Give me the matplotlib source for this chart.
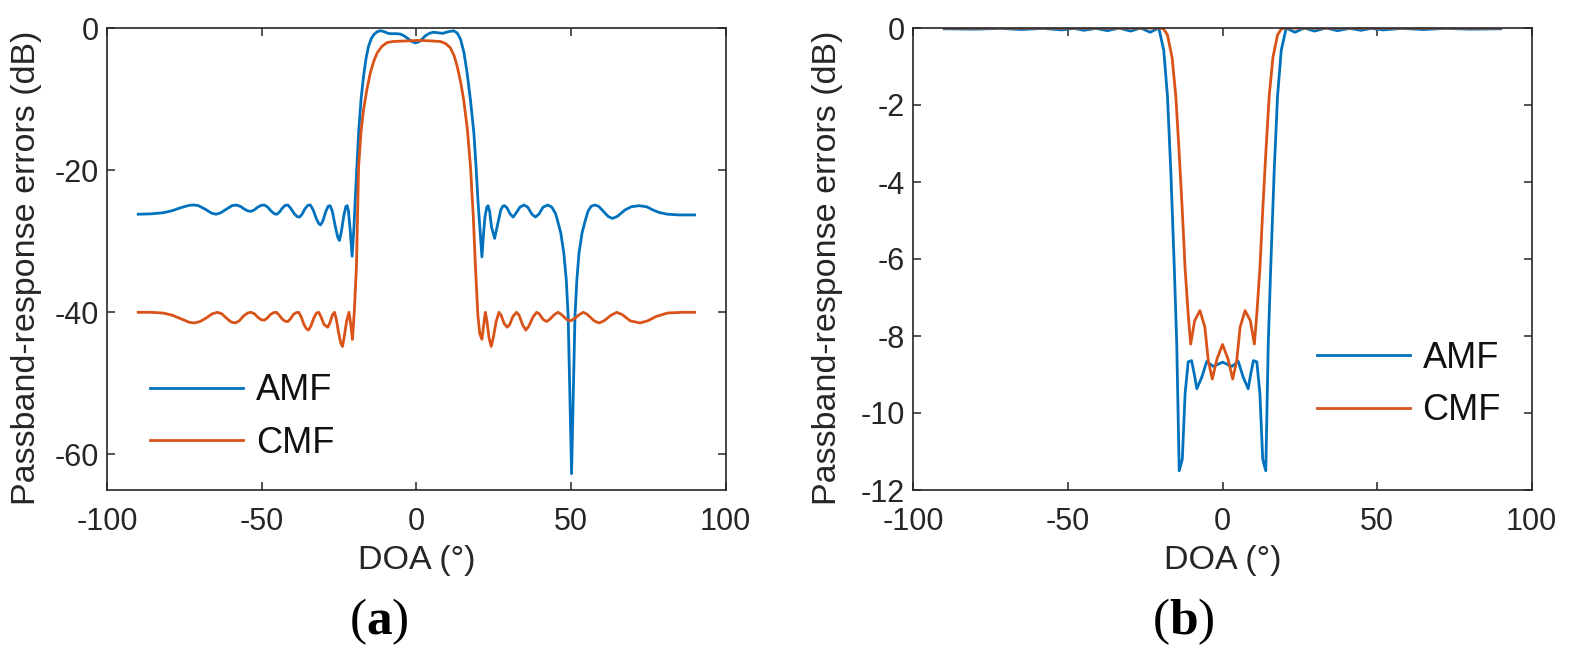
import matplotlib
matplotlib.use("Agg")
import matplotlib.pyplot as plt

plt.rcParams['font.family'] = ['Liberation Sans', 'DejaVu Sans']
plt.rcParams['axes.unicode_minus'] = False
plt.rcParams['mathtext.fontset'] = 'custom'
plt.rcParams['mathtext.rm'] = 'Liberation Serif'
plt.rcParams['mathtext.bf'] = 'Liberation Serif:bold'

# ---------------- data: panel (a) ----------------
a_amf_x = [-90, -86, -82, -79, -76, -73.5, -72, -70.5, -68.3, -66.3, -64.8, -63.3, -61.5, -59.7, -58.3,
           -56.9, -55.6, -54.4, -53.5, -52.5, -51.3, -50.2, -49.2, -48.1, -46.9, -45.9, -45.1, -44.3,
           -43.3, -42.4, -41.6, -40.6, -39.4, -38.5, -37.8, -37.0, -36.0, -35.1, -34.3, -33.4, -32.3,
           -31.6, -31.0, -30.3, -29.3, -28.5, -27.9, -27.2, -26.2, -25.4, -24.9, -24.3, -23.4, -22.8,
           -22.4, -22.0, -21.4, -20.8, -20.2, -19.8, -19.2, -18.7, -17.9, -17.1, -16.3, -15.5, -14.6,
           -13.8, -12.8, -11.7, -10.5, -9.2, -8.4, -6.5, -5.2, -4.0, -3.0, -1.5, -0.3, 1.0, 2.0, 2.9,
           4.2, 5.5, 7.0, 8.5, 10.5, 12.1, 13.2, 14.3, 15.4, 16.4, 17.5, 18.6, 19.3, 19.9, 20.6, 21.2,
           21.8, 22.2, 22.8, 23.2, 23.7, 24.3, 25.3, 26.2, 27.3, 28.0, 28.5, 29.3, 30.4, 31.3, 32.3,
           33.5, 34.8, 36.0, 37.4, 38.5, 39.6, 41.0, 42.5, 43.8, 45.0, 45.6, 46.7, 47.7, 48.5, 49.1,
           50.2, 51.3, 51.9, 52.6, 53.6, 54.7, 55.5, 56.5, 57.7, 59.0, 60.5, 62.0, 63.4, 65.0, 67.5,
           69.5, 72.0, 74.5, 76.5, 78.5, 81.2, 85.0, 90.0]
a_amf_y = [-26.2, -26.15, -26.0, -25.7, -25.25, -24.95, -24.9, -25.0, -25.5, -26.05, -26.2, -26.0, -25.5, -25.0, -24.9,
           -25.1, -25.5, -25.75, -25.8, -25.6, -25.2, -24.95, -24.9, -25.2, -25.8, -26.15, -26.2, -25.9,
           -25.3, -24.95, -24.9, -25.4, -26.2, -26.55, -26.6, -26.2, -25.4, -24.95, -24.9, -25.6, -26.9,
           -27.5, -27.7, -27.2, -25.8, -25.05, -25.0, -25.8, -28.0, -29.5, -29.9, -28.7, -26.2, -25.1,
           -25.0, -25.7, -28.5, -32.1, -28.0, -24.2, -19.0, -14.8, -10.0, -6.8, -4.3, -2.6, -1.5,
           -0.94, -0.55, -0.38, -0.5, -0.75, -0.8, -0.8, -0.85, -1.1, -1.4, -1.9, -2.1, -1.9, -1.5, -1.1,
           -0.75, -0.6, -0.68, -0.75, -0.5, -0.4, -0.7, -1.6, -3.5, -6.3, -10.2, -14.8, -19.5, -24.2, -28.5, -32.2,
           -28.5, -26.5, -25.2, -25.0, -25.8, -28.0, -29.6, -27.8, -25.6, -25.05, -25.0, -25.3, -26.2, -26.6, -26.0,
           -25.2, -24.9, -25.2, -26.2, -26.6, -26.2, -25.2, -24.9, -25.2, -26.1, -27.0, -28.8, -31.7, -35.5, -40.6,
           -62.7, -40.6, -35.5, -31.7, -28.8, -27.0, -25.8, -25.1, -24.9, -25.1, -25.8, -26.5, -26.8, -26.5, -25.6,
           -25.15, -25.0, -25.15, -25.6, -25.95, -26.2, -26.3, -26.3]

a_cmf_x = [-90, -86, -82, -79, -76, -73.5, -71.8, -70, -68, -66, -64.4, -63, -61.5, -60, -58.6,
           -57.3, -55.9, -54.6, -53.5, -52.4, -51.3, -50.2, -49.2, -48.2, -47.2, -46.2, -45.3, -44.4,
           -43.4, -42.5, -41.6, -40.7, -39.8, -38.9, -38.1, -37.3, -36.4, -35.6, -34.9, -34.1, -33.2,
           -32.3, -31.6, -30.8, -29.9, -28.7, -28.0, -27.2, -26.5, -25.9, -25.2, -24.5, -23.9, -23.3,
           -22.6, -21.8, -21.2, -20.7, -20.1, -19.4, -18.7, -17.9, -17.1, -16.0, -14.9, -13.8, -12.7,
           -11.2, -9.5, -7.5, -5.2, -2.0, 0, 1.3, 4.0, 7.8, 9.5, 11.0, 12.2, 13.2, 14.3, 15.3, 16.5,
           17.5, 18.4, 19.1, 19.9, 20.5, 21.2, 21.7, 22.3, 22.8, 23.5, 24.2, 24.9, 25.8, 26.7, 27.4,
           28.4, 29.4, 30.2, 31.2, 32.4, 33.2, 34.4, 35.4, 36.3, 37.8, 38.9, 39.7, 41.0, 42.1, 43.1,
           44.7, 45.8, 46.9, 48.6, 49.9, 51.1, 52.8, 54.0, 55.3, 57.5, 59.1, 60.7, 63.0, 64.8, 66.5,
           69.2, 72.3, 74.8, 77.5, 81.2, 86.0, 90.0]
a_cmf_y = [-40.0, -40.0, -40.1, -40.4, -40.95, -41.4, -41.5, -41.3, -40.8, -40.2, -40.0, -40.2, -40.8, -41.35, -41.5,
           -41.2, -40.5, -40.1, -40.0, -40.2, -40.7, -41.05, -41.1, -40.8, -40.3, -40.05, -40.0, -40.4,
           -40.95, -41.25, -41.3, -40.9, -40.3, -40.05, -40.0, -40.6, -41.7, -42.3, -42.5, -41.9, -40.8,
           -40.1, -40.0, -40.7, -41.7, -42.1, -41.5, -40.4, -40.0, -41.0, -42.8, -44.3, -44.8, -43.3,
           -41.3, -40.0, -41.8, -43.8, -40.0, -33.6, -19.5, -14.5, -11.5, -8.6, -6.3, -4.7, -3.5,
           -2.6, -2.05, -1.9, -1.85, -1.8, -1.75, -1.75, -1.8, -1.9, -2.2, -2.8, -3.9, -5.4, -7.6, -10.1, -14.3,
           -19.5, -26.5, -33.6, -40.5, -43.0, -43.8, -42.0, -40.0, -41.2, -43.6, -44.8, -43.5, -41.3, -40.0, -40.4,
           -41.6, -42.1, -41.7, -40.6, -40.0, -40.4, -41.8, -42.5, -42.0, -40.6, -40.0, -40.2, -41.0, -41.3, -41.0,
           -40.3, -40.0, -40.3, -41.0, -41.2, -40.9, -40.3, -40.0, -40.3, -41.2, -41.5, -41.2, -40.4, -40.0, -40.3,
           -41.2, -41.5, -41.2, -40.6, -40.1, -40.0, -40.0]

# ---------------- data: panel (b) ----------------
b_amf_x = [-90, -80, -72, -65, -58, -52, -48, -44.8, -41, -37.2, -33.5, -29.7, -26.5, -23.4, -20.6,
           -19.0, -17.8, -16.7, -15.6, -14.8, -14.0, -13.0, -12.1, -11.1, -10.0, -9.1, -8.3, -6.7, -5.1,
           -3.0, 0, 3.0, 5.1, 6.7, 8.3, 9.1, 10.0, 11.1, 12.1, 13.0, 14.0, 14.8, 15.6, 16.7, 17.8, 19.0,
           20.6, 23.4, 26.5, 29.7, 33.5, 37.2, 41, 44.8, 48, 52, 58, 65, 72, 80, 90]
b_amf_y = [-0.02, -0.03, -0.01, -0.04, -0.01, -0.05, -0.01, -0.06, -0.01, -0.07, 0.0, -0.08, 0.0, -0.11, 0.0,
           -0.58, -1.77, -3.75, -6.2, -8.2, -11.5, -11.2, -9.5, -8.67, -8.64, -9.0, -9.37, -9.07, -8.66,
           -8.79, -8.68, -8.79, -8.66, -9.07, -9.37, -9.0, -8.64, -8.67, -9.5, -11.2, -11.5, -8.2, -6.2, -3.75, -1.77, -0.58,
           0.0, -0.11, 0.0, -0.08, 0.0, -0.07, -0.01, -0.06, -0.01, -0.05, -0.01, -0.04, -0.01, -0.03, -0.02]

b_cmf_x = [-90, -60, -30, -20, -19.0, -17.8, -16.3, -15.1, -14.0, -13.0, -12.1, -11.1, -10.3, -9.0, -7.3,
           -5.7, -4.6, -3.3, -1.8, 0, 1.8, 3.3, 4.6, 5.7, 7.3, 9.0, 10.3, 11.1, 12.1, 13.0, 14.0, 15.1,
           16.3, 17.8, 19.0, 20, 30, 60, 90]
b_cmf_y = [0.0, 0.0, 0.0, 0.0, -0.03, -0.18, -0.77, -1.77, -3.26, -4.75, -6.24, -7.43, -8.21, -7.6, -7.34,
           -7.77, -8.64, -9.12, -8.6, -8.22, -8.6, -9.12, -8.64, -7.77, -7.34, -7.6, -8.21, -7.43, -6.24, -4.75, -3.26, -1.77,
           -0.77, -0.18, -0.03, 0.0, 0.0, 0.0, 0.0]

series_labels = ['AMF', 'CMF']
x_ticks = [-100, -50, 0, 50, 100]
a_yticks = [-60, -40, -20, 0]
b_yticks = [-12, -10, -8, -6, -4, -2, 0]

C_AMF = '#0072BD'
C_CMF = '#D95319'
AX_C = '#262626'

W, H = 1569, 656
fig = plt.figure(figsize=(W / 100, H / 100), dpi=100)

def px_axes(l, t, r, b):
    return fig.add_axes([l / W, 1 - b / H, (r - l) / W, (b - t) / H])

ax1 = px_axes(107.3, 28.0, 725.5, 490.0)
ax2 = px_axes(913.3, 28.0, 1531.7, 490.0)

for ax in (ax1, ax2):
    for s in ax.spines.values():
        s.set_color(AX_C)
        s.set_linewidth(1.2)
    ax.tick_params(direction='in', top=True, right=True, length=6, width=1.1,
                   colors=AX_C, labelsize=22, labelcolor=AX_C)
    ax.tick_params(axis='x', pad=12)
    ax.tick_params(axis='y', pad=6)
    ax.set_xlim(-100, 100)
    ax.set_xticks(x_ticks)
    ax.set_xlabel('DOA (°)', fontsize=24.5, color=AX_C)
    ax.set_ylabel('Passband-response errors (dB)', fontsize=24.5, color=AX_C)

ax1.plot(a_amf_x, a_amf_y, color=C_AMF, lw=2.0, label=series_labels[0])
ax1.plot(a_cmf_x, a_cmf_y, color=C_CMF, lw=2.0, label=series_labels[1])
ax1.set_ylim(-65, 0)
ax1.set_yticks(a_yticks)

ax2.plot(b_amf_x, b_amf_y, color=C_AMF, lw=2.0, label=series_labels[0])
ax2.plot(b_cmf_x, b_cmf_y, color=C_CMF, lw=2.0, label=series_labels[1])
ax2.set_ylim(-12, 0)
ax2.set_yticks(b_yticks)

for ax, xl in ((ax1, -0.106), (ax2, -0.114)):
    ax.yaxis.set_label_coords(xl, 0.48)
    ax.xaxis.set_label_coords(0.5, -0.118)

leg_kw = dict(frameon=False, fontsize=26, handlelength=2.58, handletextpad=0.35,
              labelspacing=0.48, borderpad=0, borderaxespad=0, loc='upper left')
l1 = ax1.legend(bbox_to_anchor=(0.069, 0.2525), **leg_kw)
l2 = ax2.legend(bbox_to_anchor=(0.6525, 0.3225), **leg_kw)
for lg in (l1, l2):
    for t in lg.get_texts():
        t.set_color('#111111')

fig.text(379 / W, 1 - 622 / H, r'$(\mathbf{a})$', fontsize=37, ha='center', va='center')
fig.text(1183 / W, 1 - 622 / H, r'$(\mathbf{b})$', fontsize=37, ha='center', va='center')

fig.savefig('out.png', dpi=100)
